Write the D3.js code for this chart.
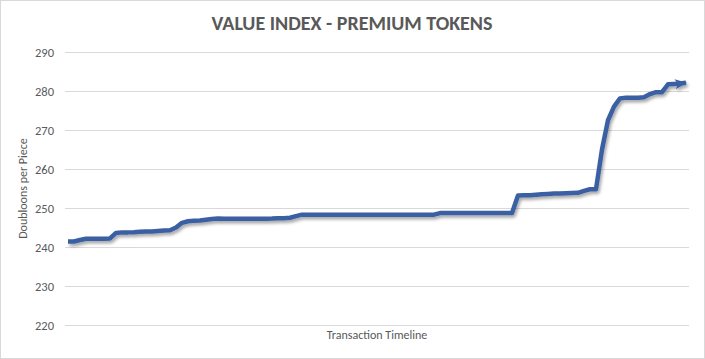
<!DOCTYPE html>
<html>
<head>
<meta charset="utf-8">
<script src="https://cdn.jsdelivr.net/npm/d3@7/dist/d3.min.js"></script>
<style>
  html, body { margin: 0; padding: 0; background: #fff; }
  svg { display: block; }
</style>
</head>
<body>
<svg id="chart" width="705" height="359"></svg>
<script>
const title = "VALUE INDEX - PREMIUM TOKENS";
const yAxisTitle = "Doubloons per Piece";
const xAxisTitle = "Transaction Timeline";
const yTicks = [220, 230, 240, 250, 260, 270, 280, 290];
const values = [
  241.4, 241.4, 241.8, 242.1, 242.1, 242.1, 242.1, 242.2, 243.6, 243.75,
  243.75, 243.8, 243.9, 244.0, 244.0, 244.1, 244.2, 244.3, 245.0, 246.2,
  246.6, 246.7, 246.8, 247.0, 247.2, 247.3, 247.25, 247.25, 247.25, 247.25,
  247.25, 247.25, 247.25, 247.25, 247.3, 247.4, 247.4, 247.5, 247.9, 248.3,
  248.3, 248.3, 248.3, 248.3, 248.3, 248.3, 248.3, 248.3, 248.3, 248.3,
  248.3, 248.3, 248.3, 248.3, 248.3, 248.3, 248.3, 248.3, 248.3, 248.3,
  248.3, 248.3, 248.7, 248.7, 248.7, 248.7, 248.7, 248.7, 248.7, 248.7,
  248.7, 248.7, 248.7, 248.7, 248.7, 253.2, 253.3, 253.3, 253.4, 253.5,
  253.6, 253.7, 253.7, 253.8, 253.85, 253.9, 254.4, 254.8, 254.8, 265.0,
  272.5, 276.0, 278.1, 278.3, 278.3, 278.3, 278.4, 279.2, 279.7, 279.7,
  281.7, 281.8, 281.9, 282.1
];
const categories = values.map((_, i) => i + 1);

const W = 705, H = 359;
const plot = { left: 65, right: 689, top: 52, bottom: 325 };
const FONT = "Carlito, 'Liberation Sans Narrow', 'Open Sans', sans-serif";
const TEXT = "#595959";
const GRID = "#d9d9d9";
const LINE = "#3a5fa3";

const svg = d3.select("#chart");

svg.append("rect")
  .attr("x", 0.5).attr("y", 0.5)
  .attr("width", W - 1).attr("height", H - 1)
  .attr("fill", "#fff").attr("stroke", GRID);

const defs = svg.append("defs");
const f = defs.append("filter").attr("id", "shadow")
  .attr("x", "-5%").attr("y", "-20%").attr("width", "110%").attr("height", "140%");
f.append("feDropShadow").attr("dx", 1.5).attr("dy", 2.5)
  .attr("stdDeviation", 1.4).attr("flood-color", "#000").attr("flood-opacity", 0.35);

defs.append("marker").attr("id", "arrow")
  .attr("viewBox", "0 0 12 10")
  .attr("refX", 11).attr("refY", 5)
  .attr("markerWidth", 12).attr("markerHeight", 10)
  .attr("markerUnits", "userSpaceOnUse")
  .attr("orient", "auto")
  .append("path")
  .attr("d", "M0,0 L12,5 L0,10 L3,5 Z")
  .attr("fill", LINE);

const x = d3.scalePoint().domain(categories).range([plot.left, plot.right]).padding(0.5);
const y = d3.scaleLinear().domain([220, 290]).range([plot.bottom, plot.top]);

const yAxis = d3.axisLeft(y).tickValues(yTicks)
  .tickSize(-(plot.right - plot.left)).tickPadding(11);
const gy = svg.append("g").attr("transform", `translate(${plot.left},0)`).call(yAxis);
gy.select(".domain").remove();
gy.selectAll(".tick line").attr("stroke", GRID).attr("stroke-width", 1);
gy.selectAll(".tick text")
  .attr("fill", TEXT).attr("font-family", FONT).attr("font-size", 12.5);

svg.append("text")
  .attr("x", 352).attr("y", 30)
  .attr("text-anchor", "middle")
  .attr("font-family", FONT).attr("font-weight", "bold").attr("font-size", 20)
  .attr("fill", TEXT)
  .text(title);

svg.append("text")
  .attr("transform", `translate(27,${(plot.top + plot.bottom) / 2}) rotate(-90)`)
  .attr("text-anchor", "middle")
  .attr("font-family", FONT).attr("font-size", 12)
  .attr("fill", TEXT)
  .text(yAxisTitle);

svg.append("text")
  .attr("x", (plot.left + plot.right) / 2).attr("y", 339)
  .attr("text-anchor", "middle")
  .attr("font-family", FONT).attr("font-size", 12)
  .attr("fill", TEXT)
  .text(xAxisTitle);

const line = d3.line()
  .x((d, i) => x(categories[i]))
  .y(d => y(d));

svg.append("path")
  .datum(values)
  .attr("d", line)
  .attr("fill", "none")
  .attr("stroke", LINE)
  .attr("stroke-width", 4.5)
  .attr("stroke-linejoin", "round")
  .attr("marker-end", "url(#arrow)")
  .attr("filter", "url(#shadow)");
</script>
</body>
</html>
